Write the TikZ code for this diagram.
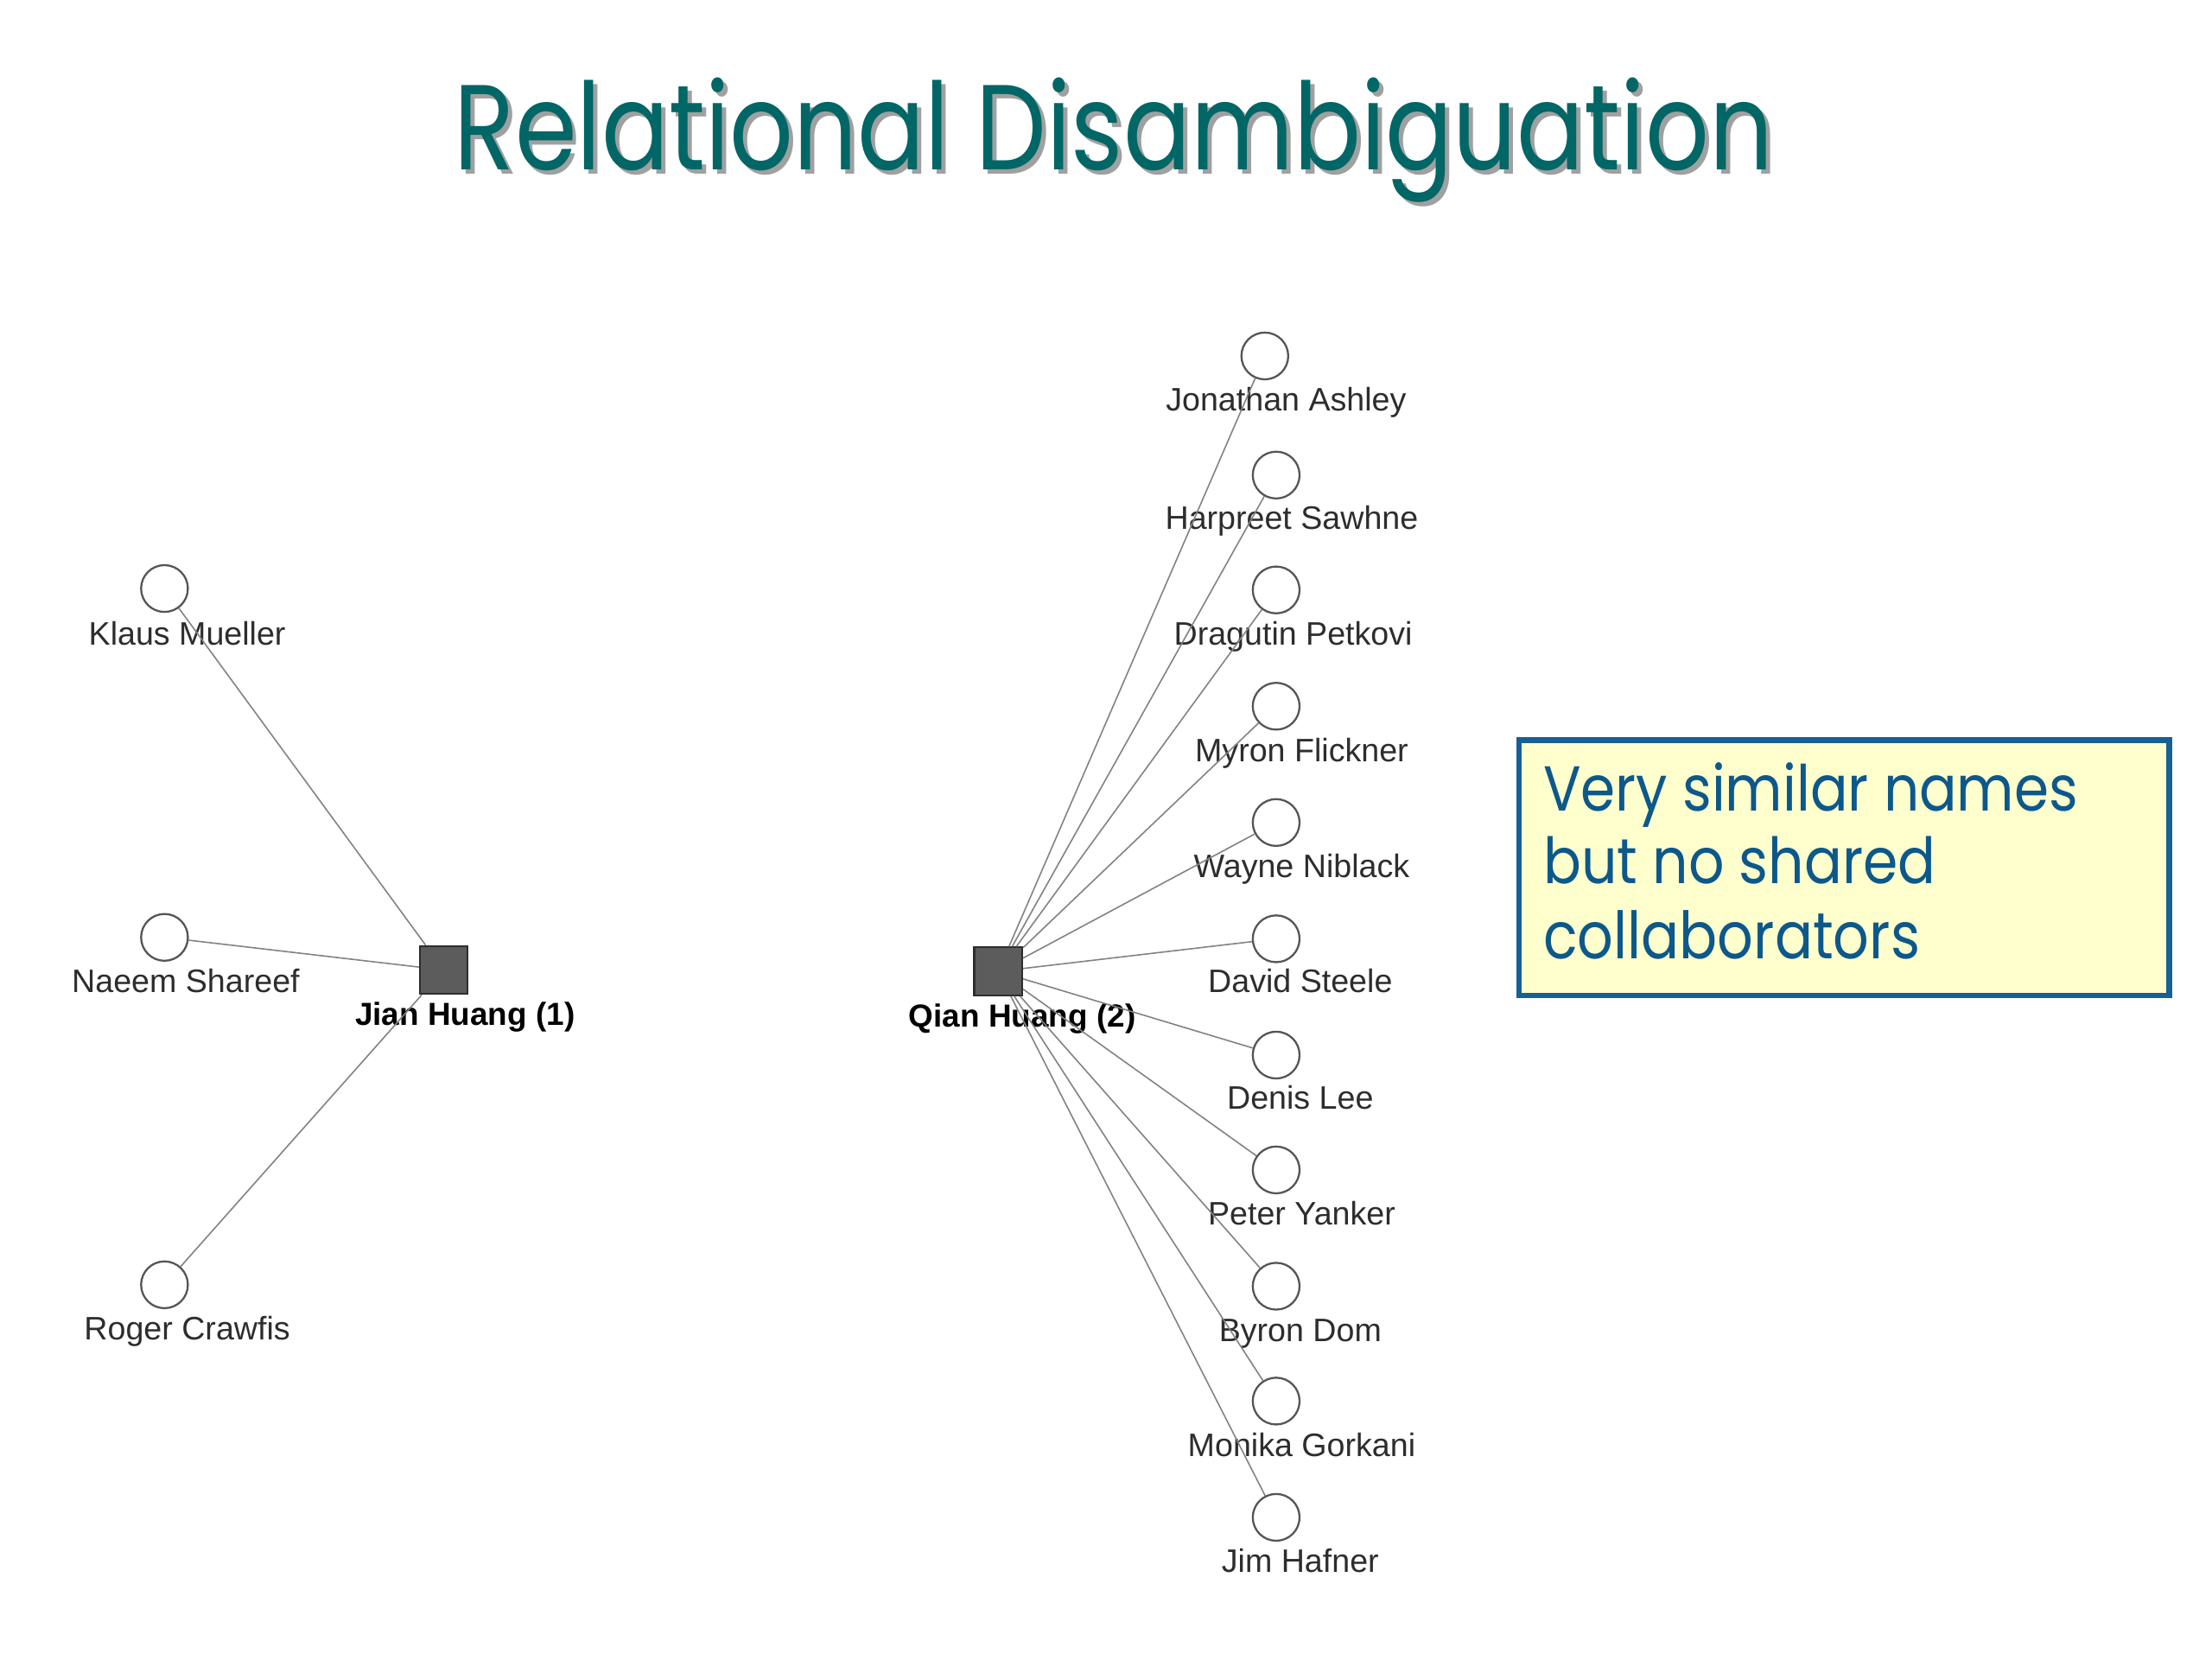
\documentclass[tikz,border=0pt]{standalone}
\usepackage{fontspec}
\usepackage{graphicx}
\setmainfont{Liberation Sans}
\newfontfamily\comicfont{Poppins}
\definecolor{titleteal}{RGB}{0,102,102}
\definecolor{shadowgray}{RGB}{160,160,160}
\definecolor{boxblue}{RGB}{22,96,148}
\definecolor{boxtext}{RGB}{12,88,138}
\definecolor{boxfill}{RGB}{255,255,206}
\definecolor{circlegray}{RGB}{85,85,85}
\definecolor{hubfill}{RGB}{92,92,92}
\definecolor{hubdraw}{RGB}{45,45,45}
\definecolor{labelgray}{RGB}{45,45,45}
\definecolor{linkgray}{RGB}{130,130,130}
\tikzset{
  person/.style={circle, draw=circlegray, fill=white, line width=0.65pt, minimum size=15.4pt, inner sep=0pt},
  hub/.style={rectangle, draw=hubdraw, fill=hubfill, line width=0.6pt, minimum size=15.8pt, inner sep=0pt},
  namelabel/.style={text=labelgray, font=\fontsize{10.7}{12}\selectfont, inner sep=0pt, anchor=base},
  hublabel/.style={text=black, font=\bfseries\fontsize{10.5}{12}\selectfont, inner sep=0pt, anchor=base},
  link/.style={draw=linkgray, line width=0.45pt},
  titletext/.style={inner sep=0pt, anchor=base west, font=\comicfont},
  notebox/.style={rectangle, draw=boxblue, fill=boxfill, line width=1.8pt, minimum width=214pt, minimum height=84pt, inner sep=0pt},
  notetext/.style={inner sep=0pt, anchor=base west, text=boxtext, font=\comicfont},
}
\begin{document}
\begin{tikzpicture}[x=0.016410cm, y=-0.016410cm]
\useasboundingbox (0,0) rectangle (1560,1170);
\fill[white] (0,0) rectangle (1560,1170);

% title
\node[titletext, text=shadowgray] (titleshadow) at (323,123) {\resizebox{434pt}{30.3pt}{Relational Disambiguation}};
\node[titletext, text=titleteal] (title) at (320,120) {\resizebox{434pt}{30.3pt}{Relational Disambiguation}};

% left component
\node[person] (klaus) at (116,415) {};
\node[person] (naeem) at (116,661) {};
\node[person] (roger) at (116,906) {};
\node[hub] (jian) at (313,684) {};
\node[namelabel] (lklaus) at (132,455) {Klaus Mueller};
\node[namelabel] (lnaeem) at (131,700) {Naeem Shareef};
\node[namelabel] (lroger) at (132,945) {Roger Crawfis};
\node[hublabel] (ljian) at (328,723) {Jian Huang (1)};

% right component
\node[hub] (qian) at (704,685) {};
\node[hublabel] (lqian) at (721,724) {Qian Huang (2)};
\node[person] (jonathan) at (892,251) {};
\node[person] (harpreet) at (900,335) {};
\node[person] (dragutin) at (900,416) {};
\node[person] (myron) at (900,498) {};
\node[person] (wayne) at (900,580) {};
\node[person] (david) at (900,662) {};
\node[person] (denis) at (900,744) {};
\node[person] (peter) at (900,825) {};
\node[person] (byron) at (900,907) {};
\node[person] (monika) at (900,988) {};
\node[person] (jim) at (900,1070) {};
\node[namelabel] (ljonathan) at (907,290) {Jonathan Ashley};
\node[namelabel] (lharpreet) at (911,373) {Harpreet Sawhne};
\node[namelabel] (ldragutin) at (912,455) {Dragutin Petkovi};
\node[namelabel] (lmyron) at (918,537) {Myron Flickner};
\node[namelabel] (lwayne) at (918,619) {Wayne Niblack};
\node[namelabel] (ldavid) at (917,700) {David Steele};
\node[namelabel] (ldenis) at (917,782) {Denis Lee};
\node[namelabel] (lpeter) at (918,864) {Peter Yanker};
\node[namelabel] (lbyron) at (917,946) {Byron Dom};
\node[namelabel] (lmonika) at (918,1027) {Monika Gorkani};
\node[namelabel] (ljim) at (917,1109) {Jim Hafner};

% links
\foreach \p in {klaus,naeem,roger} \draw[link] (jian) -- (\p);
\foreach \p in {jonathan,harpreet,dragutin,myron,wayne,david,denis,peter,byron,monika,jim} \draw[link] (qian) -- (\p);

% note box
\node[notebox] (note) at (1300.5,612) {};
\node[notetext] (note1) at (1088,572) {\resizebox{176pt}{15.9pt}{Very similar names}};
\node[notetext] (note2) at (1088,623) {\resizebox{129.2pt}{15.5pt}{but no shared}};
\node[notetext] (note3) at (1088,676) {\resizebox{124pt}{15.9pt}{collaborators}};
\end{tikzpicture}
\end{document}
